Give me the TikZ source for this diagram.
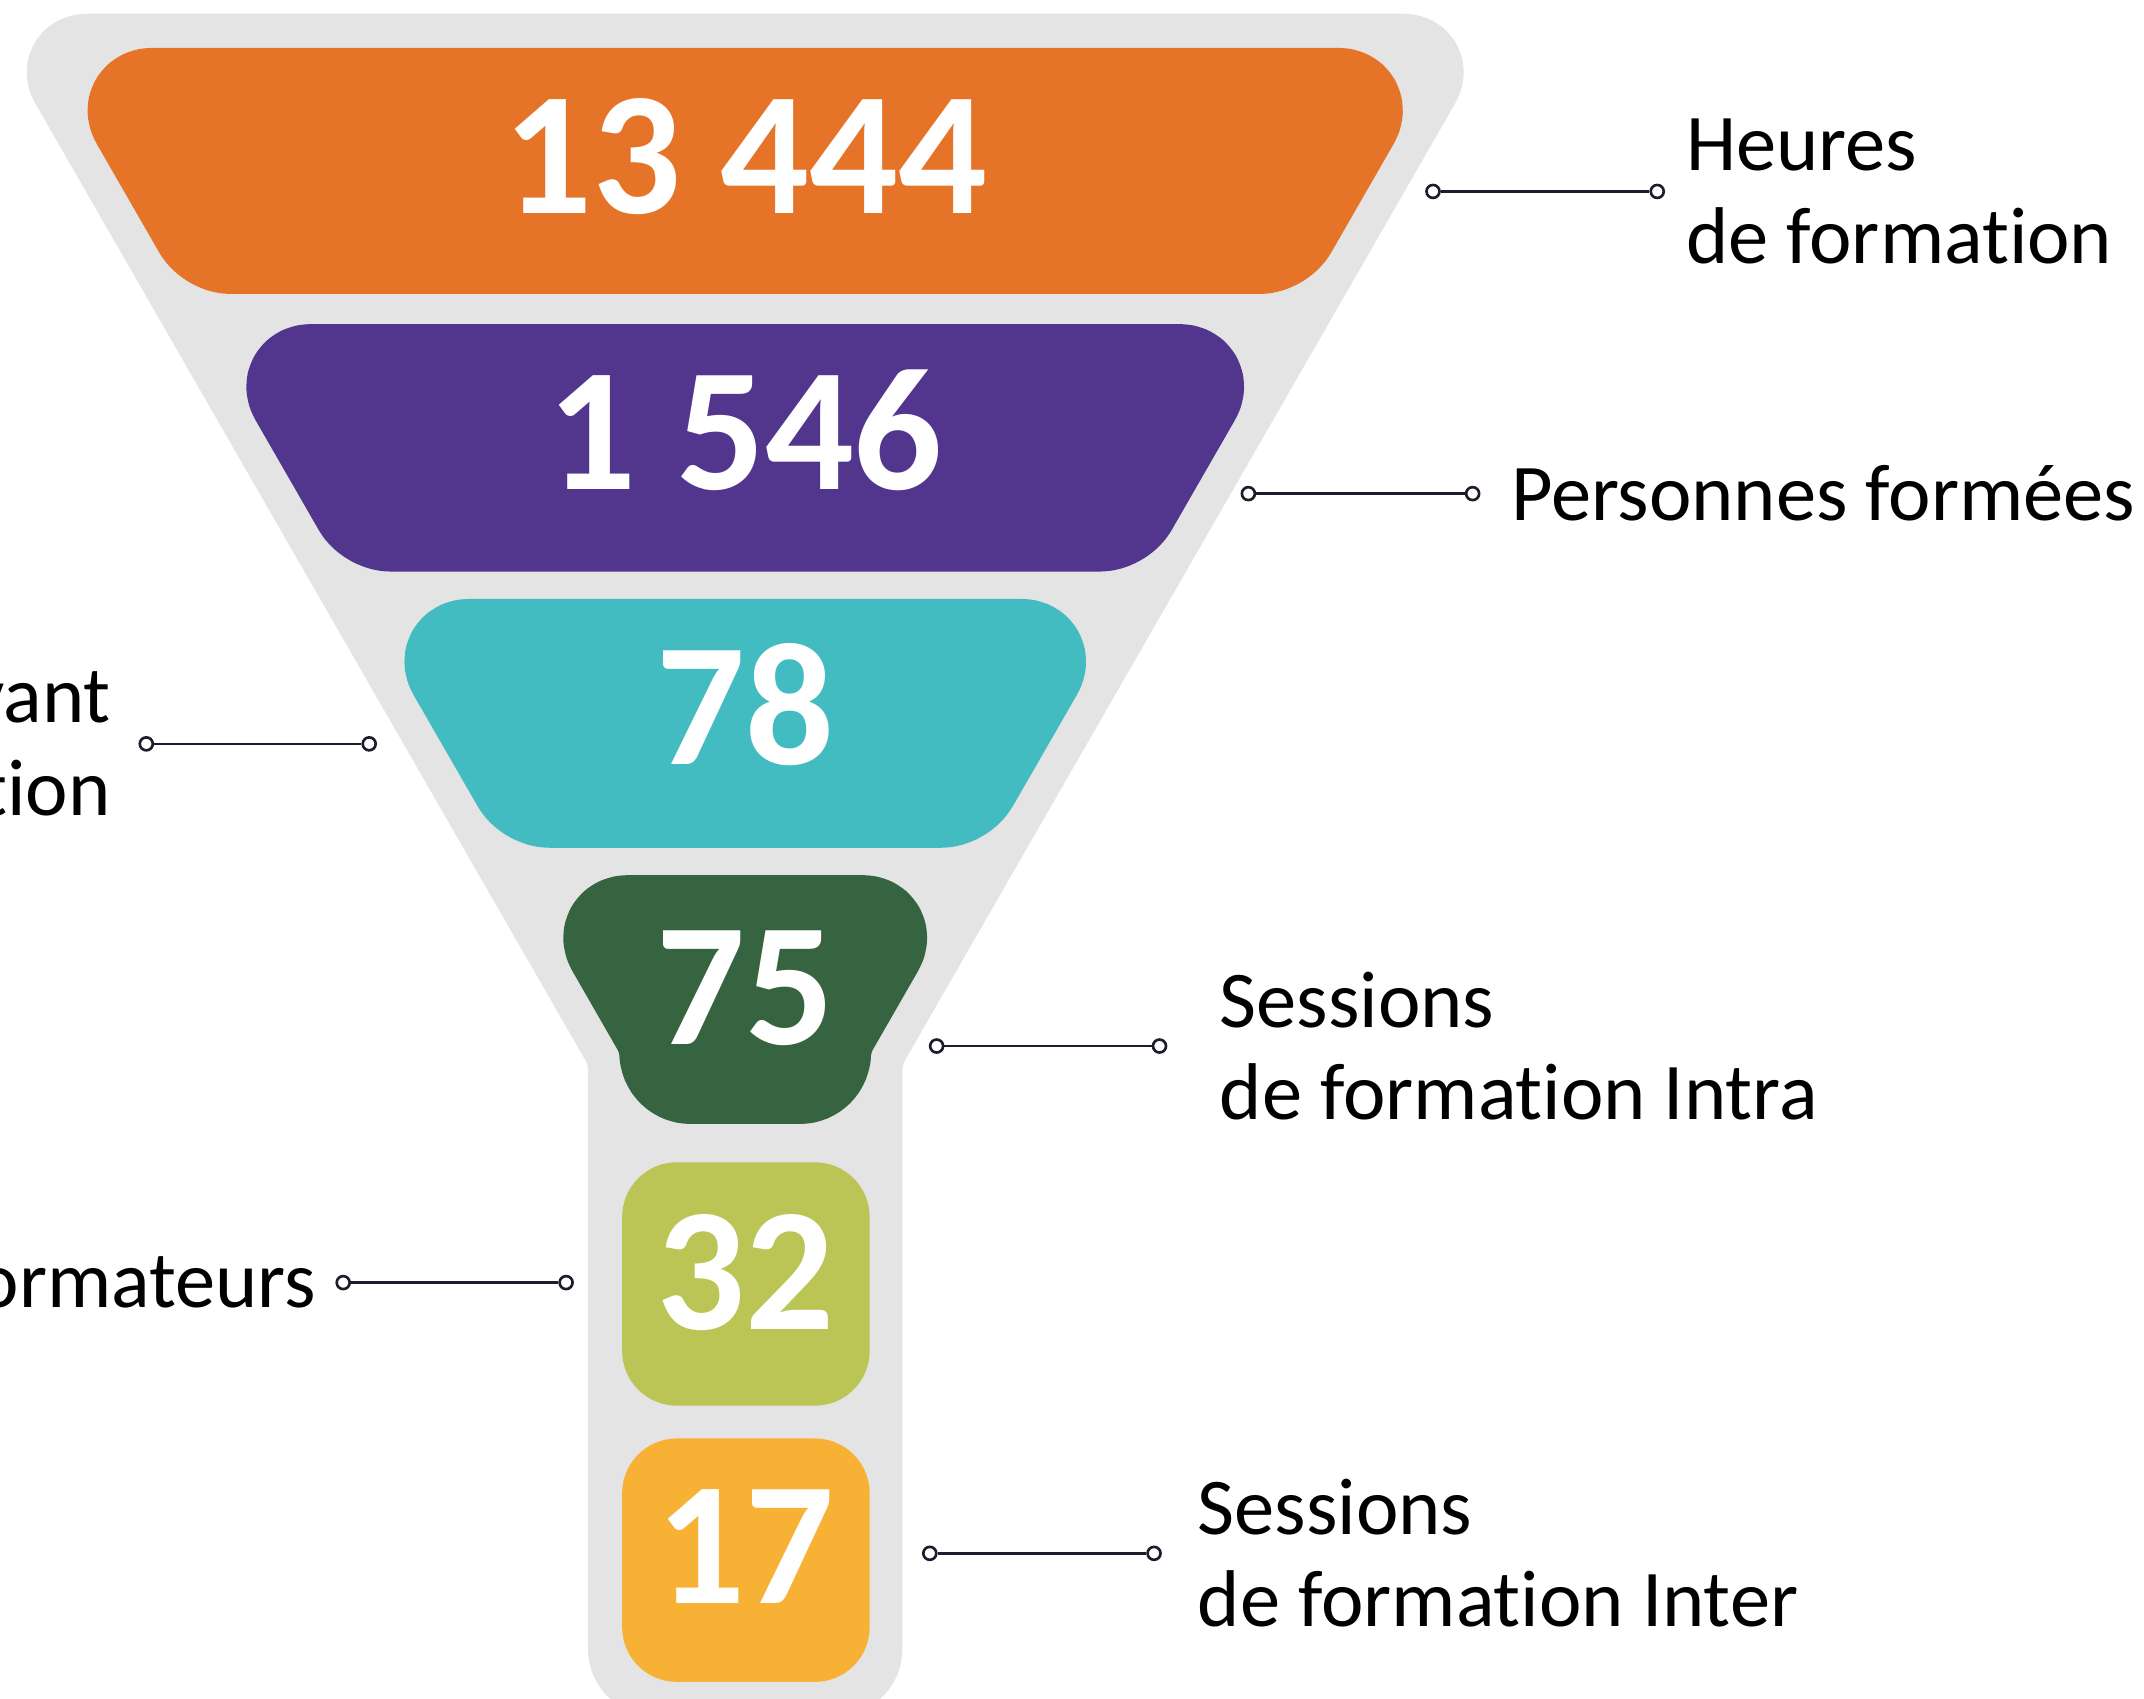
\documentclass[tikz,border=0pt]{standalone}
\usepackage{fontspec}
\setmainfont{Carlito}[RawFeature={-liga;-clig;-dlig;-calt}]
\usetikzlibrary{positioning}
\definecolor{funnelgray}{RGB}{228,228,228}
\definecolor{orangeband}{RGB}{230,116,40}
\definecolor{purpleband}{RGB}{82,54,142}
\definecolor{tealband}{RGB}{66,188,192}
\definecolor{greenband}{RGB}{55,100,64}
\definecolor{limeband}{RGB}{186,197,86}
\definecolor{yellowband}{RGB}{247,177,53}
\definecolor{linkcolor}{RGB}{28,28,44}
\tikzset{
  band/.style={line width=1.6cm, line join=round, rounded corners=0.24cm},
  num/.style={anchor=base, text=white, font=\fontsize{73}{73}\selectfont\bfseries},
  lbl/.style={inner sep=0pt, font=\fontsize{33.5}{38.5}\selectfont},
  enddot/.style={circle, draw=linkcolor, fill=white, line width=1.1pt, inner sep=0pt, minimum size=0.19cm},
  link/.style={draw=linkcolor, line width=1pt}
}

\begin{document}
\begin{tikzpicture}[x=0.02cm, y=-0.02cm]
\useasboundingbox (0,0) rectangle (1568,1242);
\clip (0,0) rectangle (1568,1242);

\filldraw[band, line width=1.48cm, fill=funnelgray, draw=funnelgray] (52,47) -- (1038,47) -- (623,768.8) -- (623,1218) -- (467,1218) -- (467,768.8) -- cycle;

\filldraw[band, fill=orangeband, draw=orangeband] (99.5,75) -- (990.5,75) -- (933,175) -- (157,175) -- cycle;
\filldraw[band, fill=purpleband, draw=purpleband] (215.6,277) -- (874.4,277) -- (816.3,378) -- (273.7,378) -- cycle;
\filldraw[band, fill=tealband, draw=tealband] (331.2,478) -- (758.8,478) -- (700.1,580) -- (389.9,580) -- cycle;
\filldraw[band, fill=greenband, draw=greenband] (447.4,680) -- (642.6,680) -- (597,759.4) -- (597,782) -- (493,782) -- (493,759.4) -- cycle;
\fill[limeband, rounded corners=0.8cm] (455,850) rectangle (636,1028);
\fill[yellowband, rounded corners=0.8cm] (455,1052) rectangle (636,1230);

\node[num] (heures) at (545,156) {13 444};
\node[num] (personnes) at (545,358) {1 546};
\node[num] (ayant) at (545,559) {78};
\node[num] (intra) at (545,764) {75};
\node[num] (formateurs) at (545,972) {32};
\node[num] (inter) at (545,1173) {17};

\node[enddot] (h1) at (1048,140) {};
\node[enddot] (h2) at (1212,140) {};
\draw[link] (h1) -- (h2);
\node[lbl, align=left, right=0.3cm of h2] (hlbl) {Heures\\de formation};

\node[enddot] (p1) at (913,361) {};
\node[enddot] (p2) at (1077,361) {};
\draw[link] (p1) -- (p2);
\node[lbl, right=0.44cm of p2] (plbl) {Personnes formées};

\node[enddot] (a1) at (107,544) {};
\node[enddot] (a2) at (270,544) {};
\draw[link] (a1) -- (a2);
\node[lbl, align=right, left=0.40cm of a1] (albl) {vant\\tion};

\node[enddot] (s1) at (685,765) {};
\node[enddot] (s2) at (848,765) {};
\draw[link] (s1) -- (s2);
\node[lbl, align=left, right=0.76cm of s2] (slbl) {Sessions\\de formation Intra};

\node[enddot] (f1) at (251,938) {};
\node[enddot] (f2) at (414,938) {};
\draw[link] (f1) -- (f2);
\node[lbl, left=0.28cm of f1] (flbl) {ormateurs};

\node[enddot] (t1) at (680,1136) {};
\node[enddot] (t2) at (844,1136) {};
\draw[link] (t1) -- (t2);
\node[lbl, align=left, right=0.52cm of t2] (tlbl) {Sessions\\de formation Inter};
\end{tikzpicture}
\end{document}
